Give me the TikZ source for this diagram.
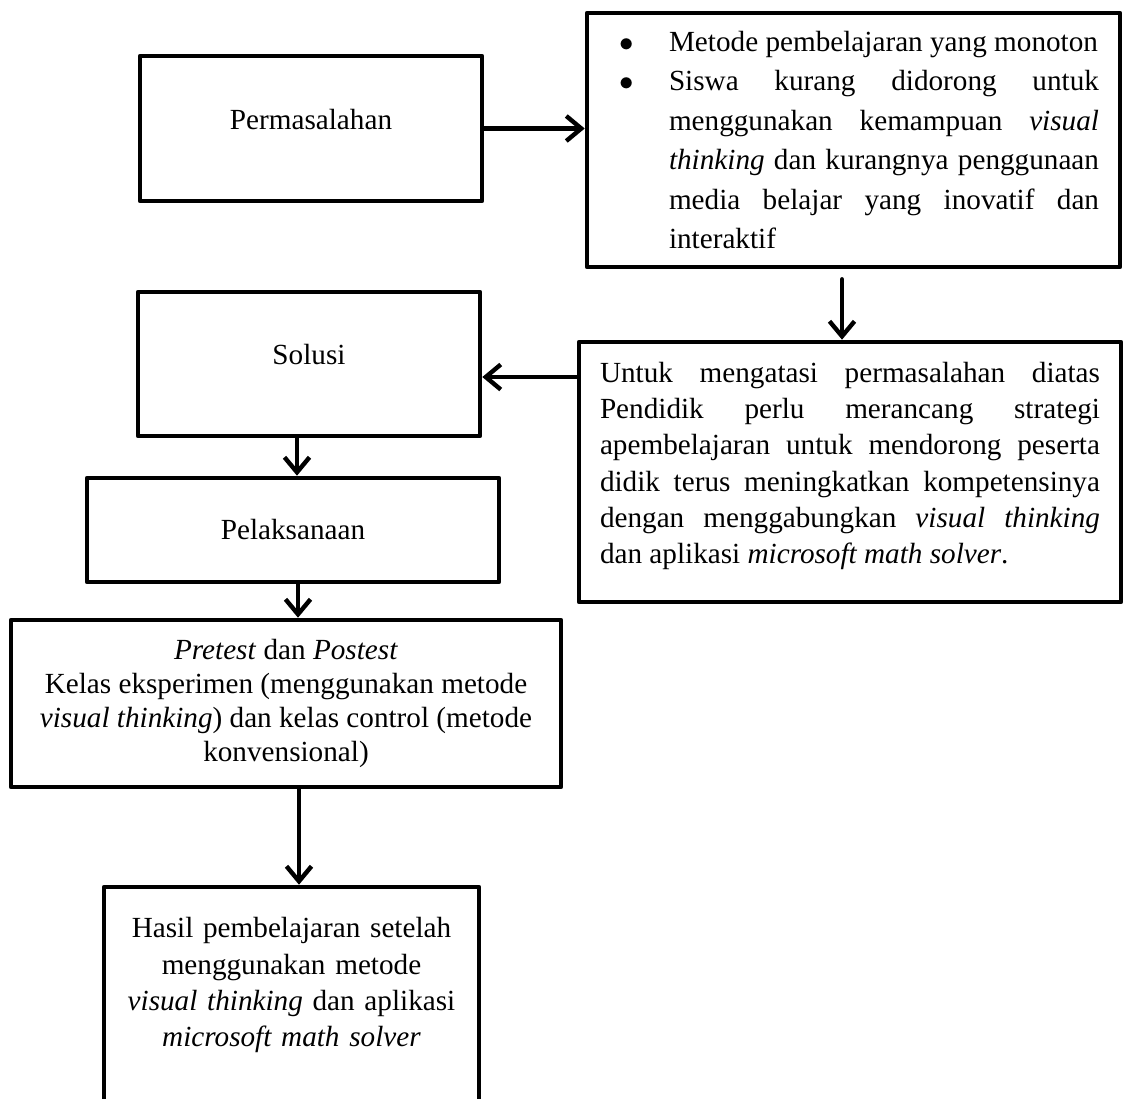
\documentclass[tikz,border=0pt]{standalone}
\usepackage{fontspec}
\setmainfont{Liberation Serif}
\usetikzlibrary{arrows.meta}
\newcommand{\butir}{\makebox[30.5pt][l]{\hspace{5.5pt}$\bullet$}}

\begin{document}
\begin{tikzpicture}[x=0.5pt, y=-0.5pt, >={Straight Barb[length=7.5pt, width=12.5pt]},
    kotak/.style={draw, line width=2.3pt, line join=round, inner sep=0pt,
        font=\fontsize{14.6}{18.15}\selectfont},
    panah/.style={->, line width=2.2pt, line cap=round}]
    \useasboundingbox (0,0) rectangle (1123,1098);
    \clip (0,0) rectangle (1123,1098);
    % Kotak kiri
    \node[kotak, minimum width=171pt, minimum height=72.5pt, text depth=9.5pt] (masalah) at (311,128.5) {Permasalahan};
    \node[kotak, minimum width=171pt, minimum height=72pt, text depth=9.5pt] (solusi) at (309,364) {Solusi};
    \node[kotak, minimum width=206pt, minimum height=52pt] (pelaksanaan) at (293,530) {Pelaksanaan};
    \node[kotak, minimum width=275pt, minimum height=83.5pt, align=center,
        font=\fontsize{14.6}{16.85}\selectfont] (tes) at (286,703.5)
        {\textit{Pretest} dan \textit{Postest}\\
         Kelas eksperimen (menggunakan metode\\
         \textit{visual thinking}) dan kelas control (metode\\
         konvensional)};
    \node[kotak, minimum width=187.5pt, minimum height=136.5pt, text width=180pt, align=center,
        text depth=95.7pt] (hasil) at (291.5,1023.5)
        {Hasil pembelajaran setelah\\
         menggunakan metode\\
         \textit{visual thinking} dan aplikasi\\
         \textit{microsoft math solver}};
    % Kotak kanan
    \node[kotak, minimum width=266.5pt, minimum height=127pt, text width=245.5pt, align=justify,
        font=\fontsize{14.6}{19.7}\selectfont] (sebab) at (853.5,140)
        {\butir Metode pembelajaran yang monoton\par
         \noindent\hangindent=30.5pt\hangafter=1\butir Siswa kurang didorong untuk\linebreak
         menggunakan kemampuan \textit{visual}\linebreak
         \textit{thinking} dan kurangnya penggunaan\linebreak
         media belajar yang inovatif dan\linebreak
         interaktif\par};
    \node[kotak, minimum width=271pt, minimum height=130pt, text width=250pt, align=justify,
        text depth=100pt] (strategi) at (850,472)
        {Untuk mengatasi permasalahan diatas\linebreak
         Pendidik perlu merancang strategi\linebreak
         apembelajaran untuk mendorong peserta\linebreak
         didik terus meningkatkan kompetensinya\linebreak
         dengan menggabungkan \textit{visual thinking}\linebreak
         dan aplikasi \textit{microsoft math solver}.};
    % Panah
    \draw[panah] (masalah.east) -- (masalah.east -| sebab.west);
    \draw[panah] ([xshift=-5.75pt, yshift=-5pt]sebab.south) -- ([xshift=-4pt]strategi.north);
    \draw[panah] ([yshift=47.5pt]strategi.west) -- ([yshift=47.5pt]strategi.west -| solusi.east);
    \draw[panah] ([xshift=-6pt]solusi.south) -- ([xshift=-6pt]solusi.south |- pelaksanaan.north);
    \draw[panah] ([xshift=2.5pt]pelaksanaan.south) -- ([xshift=2.5pt]pelaksanaan.south |- tes.north);
    \draw[panah] ([xshift=6.5pt]tes.south) -- ([xshift=6.5pt]tes.south |- hasil.north);
\end{tikzpicture}
\end{document}
